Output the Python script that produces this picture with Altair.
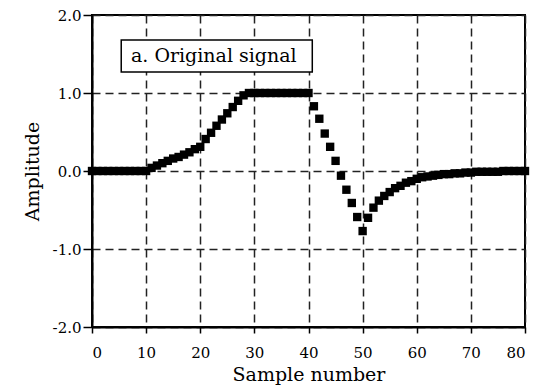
import altair as alt
import pandas as pd

# Sample numbers and amplitudes
samples = list(range(81))
amplitude = (
    [0.0] * 11
    + [0.04, 0.07, 0.10, 0.13, 0.16, 0.18, 0.21, 0.24, 0.28, 0.31]
    + [0.41, 0.49, 0.58, 0.66, 0.74, 0.82, 0.90, 0.97, 1.0]
    + [1.0] * 11
    + [0.83, 0.67, 0.48, 0.31, 0.13, -0.06, -0.24, -0.41, -0.59, -0.77]
    + [-0.60, -0.47, -0.38, -0.32, -0.27, -0.22, -0.19, -0.15, -0.13, -0.10,
       -0.08, -0.07, -0.06, -0.05, -0.04, -0.04, -0.03, -0.03, -0.02, -0.02,
       -0.01, -0.01, -0.01, -0.01, -0.01, 0.0, 0.0, 0.0, 0.0, 0.0]
)

x_ticks = [0, 10, 20, 30, 40, 50, 60, 70, 80]
y_ticks = [-2, -1, 0, 1, 2]

label_text = ["a. Original signal"]
box_x1, box_x2 = [5.4], [40.7]
box_y1, box_y2 = [1.27], [1.68]
text_x, text_y = [7.2], [1.47]

FONT = "DejaVu Serif"

df = pd.DataFrame({"n": samples, "amp": amplitude})
box_df = pd.DataFrame({"x1": box_x1, "x2": box_x2, "y1": box_y1, "y2": box_y2,
                       "tx": text_x, "ty": text_y, "label": label_text})

xscale = alt.Scale(domain=[0, 80], nice=False, zero=False)
yscale = alt.Scale(domain=[-2, 2], nice=False, zero=False)

xaxis = alt.Axis(values=x_ticks, title="Sample number", format="d",
                 grid=True, gridDash=[8, 5], gridColor="#222", gridWidth=1.5,
                 tickSize=6, labelPadding=12, titlePadding=5)
yaxis = alt.Axis(values=y_ticks, title="Amplitude",
                 labelExpr="datum.value < 0 ? '-' + format(-datum.value, '.1f') : format(datum.value, '.1f')",
                 grid=True, gridDash=[8, 5], gridColor="#222", gridWidth=1.5,
                 tickSize=9, labelPadding=2, titlePadding=10)

points = alt.Chart(df).mark_square(size=70, color="black", opacity=1).encode(
    x=alt.X("n:Q", scale=xscale, axis=xaxis),
    y=alt.Y("amp:Q", scale=yscale, axis=yaxis),
)

box = alt.Chart(box_df).mark_rect(fill="white", stroke="black", strokeWidth=1.5).encode(
    x=alt.X("x1:Q", scale=xscale), x2="x2:Q",
    y=alt.Y("y1:Q", scale=yscale), y2="y2:Q",
)

text = alt.Chart(box_df).mark_text(align="left", baseline="middle", font=FONT,
                                   fontSize=19, color="black").encode(
    x=alt.X("tx:Q", scale=xscale),
    y=alt.Y("ty:Q", scale=yscale),
    text="label:N",
)

chart = alt.layer(points, box, text).properties(
    width=433, height=312,
    padding={"left": 92, "top": 15, "right": 20, "bottom": 61},
    autosize=alt.AutoSizeParams(type="none"),
    background="white",
).configure_view(
    stroke="black", strokeWidth=2
).configure_axis(
    domainColor="black", domainWidth=2, tickColor="black", tickWidth=1.5,
    labelFont=FONT, labelFontSize=15, labelColor="black",
    titleFont=FONT, titleFontSize=19, titleFontWeight="normal", titleColor="black",
)

chart.save("out.html", embed_options={"renderer": "svg", "actions": False})
